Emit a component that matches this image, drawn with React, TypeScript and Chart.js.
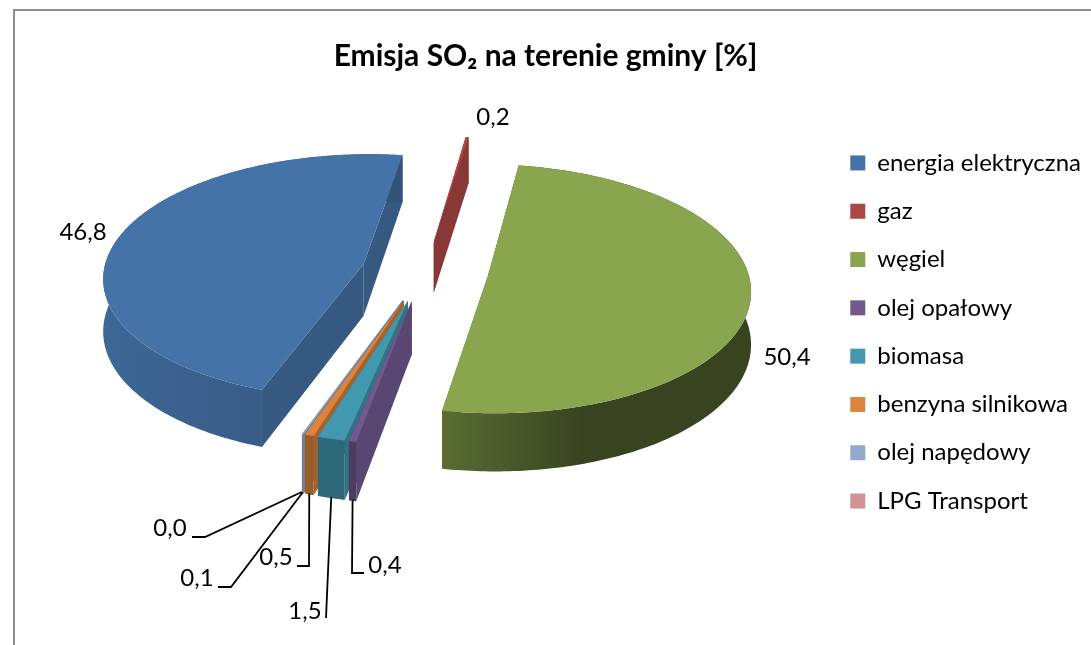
import React, { useEffect, useRef } from "react";
import { Chart, registerables } from "chart.js";

Chart.register(...registerables);

const categories = ["energia elektryczna", "gaz", "węgiel", "olej opałowy", "biomasa", "benzyna silnikowa", "olej napędowy", "LPG Transport"];
const shares = [46.8, 0.2, 50.4, 0.4, 1.5, 0.5, 0.1, 0.0];
const explode = [63, 64, 64, 64, 64, 64, 64, 64];
const colors = ["#4572A7", "#AA4643", "#89A54E", "#71588F", "#4198AF", "#DB843D", "#93A9CF", "#D19392"];
// wall shading: [cut face, outer wall left, outer wall right]
const shades = [
  [0.78, 0.9, 0.72],
  [0.8, 0.8, 0.8],
  [0.6, 0.66, 0.41],
  [0.8, 0.68, 0.68],
  [0.75, 0.7, 0.68],
  [0.75, 0.7, 0.7],
  [0.75, 0.75, 0.75],
  [0.75, 0.75, 0.75],
];
// label centre and optional leader elbow, by category index
const labelSpots: { x: number; y: number; leader?: [number, number][] }[] = [
  { x: 83, y: 232 },
  { x: 493, y: 117 },
  { x: 787, y: 357 },
  { x: 385, y: 565, leader: [[364, 573], [352, 573]] },
  { x: 305, y: 611, leader: [[326, 618]] },
  { x: 276, y: 557, leader: [[297, 566], [309, 566]] },
  { x: 197, y: 578, leader: [[218, 587], [231, 587]] },
  { x: 170, y: 528, leader: [[192, 537], [205, 537]] },
];

const FONT = "Lato, Carlito, 'Open Sans', sans-serif";
const VIEW = { k: 0.47, p: 3.9e-4, depth: 52, centerX: 424.5, centerY: 271 };

function mix(hex: string, f: number) {
  const n = parseInt(hex.slice(1), 16);
  const c = [(n >> 16) & 255, (n >> 8) & 255, n & 255].map((v) => Math.round(v * f));
  return `rgb(${c[0]},${c[1]},${c[2]})`;
}

function sliceGeometry(arc: any) {
  const off = arc.options.offset || 0;
  const mid = (arc.startAngle + arc.endAngle) / 2;
  const ox = Math.cos(mid) * off;
  const oy = Math.sin(mid) * off;
  const project = (u: number, v: number, h: number) => {
    const w = 1 - VIEW.p * v;
    return [VIEW.centerX + u / w, VIEW.centerY + (VIEW.k * v + h) / w];
  };
  const rim = (a: number, h: number) =>
    project(ox + arc.outerRadius * Math.cos(a), oy + arc.outerRadius * Math.sin(a), h);
  const apex = (h: number) => project(ox, oy, h);
  return { mid, rim, apex, start: arc.startAngle, end: arc.endAngle };
}

const poly = (ctx: CanvasRenderingContext2D, pts: number[][], fill: any) => {
  ctx.beginPath();
  pts.forEach((p, i) => (i ? ctx.lineTo(p[0], p[1]) : ctx.moveTo(p[0], p[1])));
  ctx.closePath();
  ctx.fillStyle = fill;
  ctx.fill();
};

const pie3d = {
  id: "pie3d",
  beforeDraw(chart: any) {
    const { ctx, width, height } = chart;
    ctx.save();
    ctx.strokeStyle = "#8e8e8e";
    ctx.lineWidth = 2;
    ctx.beginPath();
    ctx.moveTo(14, height);
    ctx.lineTo(14, 10);
    ctx.lineTo(width, 10);
    ctx.stroke();
    ctx.restore();
  },
  beforeDatasetsDraw(chart: any) {
    const ctx: CanvasRenderingContext2D = chart.ctx;
    const arcs = chart.getDatasetMeta(0).data as any[];
    const order = arcs.map((_, i) => i).sort((a, b) => {
      const ma = (arcs[a].startAngle + arcs[a].endAngle) / 2;
      const mb = (arcs[b].startAngle + arcs[b].endAngle) / 2;
      return Math.sin(ma) - Math.sin(mb) || Math.cos(mb) - Math.cos(ma);
    });
    ctx.save();
    for (const i of order) {
      const arc = arcs[i];
      if (arc.endAngle - arc.startAngle <= 0) continue;
      const g = sliceGeometry(arc);
      const n = Math.max(2, Math.ceil((g.end - g.start) * 60));
      const angles = Array.from({ length: n + 1 }, (_, j) => g.start + ((g.end - g.start) * j) / n);
      const top = angles.map((a) => g.rim(a, 0));
      const bottom = angles.map((a) => g.rim(a, VIEW.depth));
      const [cut, wallL, wallR] = shades[i];
      const base = colors[i];
      // cut faces
      poly(ctx, [g.apex(0), top[0], bottom[0], g.apex(VIEW.depth)], mix(base, cut));
      poly(ctx, [g.apex(0), top[n], bottom[n], g.apex(VIEW.depth)], mix(base, cut));
      // outer wall
      const xs = top.map((p) => p[0]);
      const x0 = Math.min(...xs);
      const x1 = Math.max(...xs);
      const grad = ctx.createLinearGradient(x0, 0, x1 + 1, 0);
      grad.addColorStop(0, mix(base, wallL));
      grad.addColorStop(i === 2 ? 0.45 : 1, mix(base, wallR));
      grad.addColorStop(1, mix(base, wallR));
      poly(ctx, [...top, ...bottom.slice().reverse()], grad);
      // top face
      poly(ctx, [g.apex(0), ...top], base);
    }
    ctx.restore();
    return false;
  },
  afterDraw(chart: any) {
    const ctx: CanvasRenderingContext2D = chart.ctx;
    const arcs = chart.getDatasetMeta(0).data as any[];
    ctx.save();
    ctx.font = `24px ${FONT}`;
    ctx.fillStyle = "#000";
    ctx.textAlign = "center";
    ctx.textBaseline = "middle";
    ctx.strokeStyle = "#000";
    ctx.lineWidth = 1.8;
    arcs.forEach((arc, i) => {
      const spot = labelSpots[i];
      ctx.fillText(shares[i].toFixed(1).replace(".", ","), spot.x, spot.y);
      if (spot.leader) {
        const g = sliceGeometry(arc);
        const end = g.rim(g.mid, VIEW.depth);
        ctx.beginPath();
        spot.leader.forEach((p, j) => (j ? ctx.lineTo(p[0], p[1]) : ctx.moveTo(p[0], p[1])));
        ctx.lineTo(end[0], end[1] - 1);
        ctx.stroke();
      }
    });
    ctx.restore();
  },
};

export default function App() {
  const ref = useRef<HTMLCanvasElement>(null);
  useEffect(() => {
    const chart = new Chart(ref.current as HTMLCanvasElement, {
      type: "pie",
      data: {
        labels: categories,
        datasets: [
          {
            data: shares,
            backgroundColor: colors,
            borderWidth: 0,
            offset: explode,
            radius: 260,
          } as any,
        ],
      },
      options: {
        responsive: false,
        animation: false,
        rotation: 199.5,
        layout: { padding: { left: 0, right: 0, top: 19, bottom: 0 } },
        plugins: {
          title: {
            display: true,
            text: "Emisja SO₂ na terenie gminy [%]",
            color: "#000",
            font: { family: FONT, size: 30, weight: "bold" },
            padding: { top: 19, bottom: 16 },
          },
          legend: {
            position: "right",
            labels: {
              boxWidth: 15,
              boxHeight: 15,
              padding: 24.3,
              color: "#000",
              font: { family: FONT, size: 24 },
            },
          },
          tooltip: { enabled: false },
        },
      },
      plugins: [pie3d],
    } as any);
    return () => chart.destroy();
  }, []);
  return (
    <canvas
      ref={ref}
      width={1091}
      height={645}
      style={{ position: "absolute", left: 0, top: 0, display: "block" }}
    />
  );
}
